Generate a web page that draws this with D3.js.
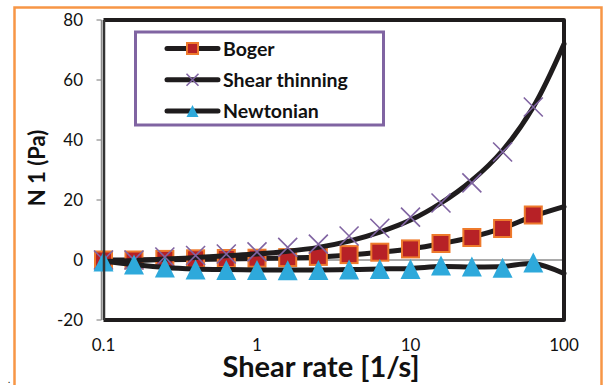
<!DOCTYPE html>
<html>
<head>
<meta charset="utf-8">
<script src="https://cdn.jsdelivr.net/npm/d3@7"></script>
<style>
  body { margin: 0; background: #fff; }
  svg { font-family: Lato, "Open Sans", sans-serif; }
</style>
</head>
<body>
<div id="chart"></div>
<script>
// shear rate (1/s), measured points and curve points
const rates = [0.1, 0.158, 0.251, 0.398, 0.631, 1, 1.585, 2.51, 3.98, 6.31, 10, 15.8, 25.1, 39.8, 63.1]
const curveRates = [0.1, 0.158, 0.251, 0.398, 0.631, 1, 1.585, 2.51, 3.98, 6.31, 10, 15.8, 25.1, 39.8, 63.1, 100]

const boger = [0, 0, 0.2, 0.4, 0.5, 0.6, 0.8, 1.2, 1.8, 2.6, 3.7, 5.5, 7.5, 10.5, 15]
const shearThinning = [0, 0, 1, 1.5, 2, 2.7, 4.2, 5.3, 8, 10.6, 14.3, 19, 25.7, 36, 51]
const newtonian = [-0.5, -1.5, -2.5, -3.2, -3.3, -3.3, -3.4, -3.3, -3.2, -3, -3, -1.8, -2.2, -2.6, -0.8]

const bogerCurve = [0, 0, 0.1, 0.2, 0.3, 0.5, 0.7, 1.0, 1.7, 2.6, 3.7, 5.4, 7.6, 10.6, 14.6, 17.8]
const shearCurve = [-0.5, -0.2, 0.3, 0.8, 1.4, 2.0, 2.9, 4.2, 6.3, 9.3, 13.3, 19, 26.5, 36.5, 51, 72]
const newtonCurve = [-0.3, -1.5, -2.5, -3.0, -3.2, -3.3, -3.3, -3.3, -3.2, -3.0, -2.8, -2.2, -2.3, -2.2, -1.2, -4.5]

const yTicks = [-20, 0, 20, 40, 60, 80]
const xTicks = [0.1, 1, 10, 100]
const seriesNames = ['Boger', 'Shear thinning', 'Newtonian']

const width = 603
const height = 385
const pLeft = 103.5, pRight = 564, pTop = 20, pBottom = 320

const x = d3.scaleLog().domain([0.1, 100]).range([pLeft, pRight])
const y = d3.scaleLinear().domain([-20, 80]).range([pBottom, pTop])

const svg = d3.select('#chart')
  .append('svg')
    .attr('width', width)
    .attr('height', height)

// orange outer frame (bottom runs off the picture)
svg.append('path')
  .attr('d', `M14.5,${height + 5}V7.5H601.5V${height + 5}`)
  .attr('fill', 'none')
  .attr('stroke', '#F79646')
  .attr('stroke-width', 2.5)

svg.append('text')
  .attr('x', 8).attr('y', 383)
  .attr('font-size', 9)
  .text('.')

// y axis (gray) with ticks
svg.append('line')
  .attr('x1', pLeft - 2).attr('x2', pLeft - 2)
  .attr('y1', pTop).attr('y2', pBottom)
  .attr('stroke', '#8c8c8c').attr('stroke-width', 1.5)

svg.selectAll('.ytick')
  .data(yTicks)
  .enter()
  .append('line')
    .attr('x1', pLeft - 7).attr('x2', pLeft - 2)
    .attr('y1', d => y(d)).attr('y2', d => y(d))
    .attr('stroke', '#8c8c8c').attr('stroke-width', 1.2)

svg.selectAll('.ylabel')
  .data(yTicks)
  .enter()
  .append('text')
    .attr('x', 83)
    .attr('y', d => y(d))
    .attr('dy', '0.36em')
    .attr('text-anchor', 'end')
    .attr('font-size', 17)
    .attr('fill', '#111')
    .text(d => d)

svg.selectAll('.xlabel')
  .data(xTicks)
  .enter()
  .append('text')
    .attr('x', d => x(d))
    .attr('y', 351)
    .attr('text-anchor', 'middle')
    .attr('font-size', 17)
    .attr('fill', '#111')
    .text(d => d)

// x axis crossing at zero
svg.append('line')
  .attr('x1', pLeft).attr('x2', pRight)
  .attr('y1', y(0)).attr('y2', y(0))
  .attr('stroke', '#8c8c8c').attr('stroke-width', 1.5)
svg.append('line')
  .attr('x1', pRight).attr('x2', pRight)
  .attr('y1', y(0)).attr('y2', y(0) + 6)
  .attr('stroke', '#8c8c8c').attr('stroke-width', 1.5)

// axis titles
svg.append('text')
  .attr('transform', `translate(45,168) rotate(-90)`)
  .attr('text-anchor', 'middle')
  .attr('font-size', 22)
  .attr('font-weight', 'bold')
  .attr('fill', '#111')
  .text('N 1 (Pa)')

svg.append('text')
  .attr('x', 321).attr('y', 377)
  .attr('text-anchor', 'middle')
  .attr('font-size', 29)
  .attr('font-weight', 'bold')
  .attr('fill', '#111')
  .text('Shear rate [1/s]')

const line = d3.line()
  .x(d => x(d[0]))
  .y(d => y(d[1]))
  .curve(d3.curveCatmullRom)

const zip = (xs, ys) => xs.map((v, i) => [v, ys[i]])

const lineColor = '#1f1c1d'

const drawLine = (vals) => {
  svg.append('path')
    .attr('d', line(zip(curveRates, vals)))
    .attr('fill', 'none')
    .attr('stroke', lineColor)
    .attr('stroke-width', 5)
    .attr('stroke-linecap', 'round')
}

const square = (g, s) => g.append('rect')
  .attr('x', -s / 2).attr('y', -s / 2)
  .attr('width', s).attr('height', s)
  .attr('fill', '#B72126')
  .attr('stroke', '#EE7A2C')
  .attr('stroke-width', 2)

const cross = (g, s) => g.append('path')
  .attr('d', `M${-s/2},${-s/2}L${s/2},${s/2}M${-s/2},${s/2}L${s/2},${-s/2}`)
  .attr('stroke', '#8064A2')
  .attr('stroke-width', 1.6)
  .attr('fill', 'none')

const triangle = (g, s) => g.append('path')
  .attr('d', `M0,${-s/2}L${s/2},${s/2}L${-s/2},${s/2}Z`)
  .attr('fill', '#2EA9DB')

const drawMarkers = (vals, shape, s) => {
  svg.selectAll(null)
    .data(zip(rates, vals))
    .enter()
    .append('g')
      .attr('transform', d => `translate(${x(d[0])},${y(d[1])})`)
      .each(function () { shape(d3.select(this), s) })
}

drawLine(bogerCurve)
drawMarkers(boger, square, 17)
drawLine(shearCurve)
drawMarkers(shearThinning, cross, 19)
drawLine(newtonCurve)
drawMarkers(newtonian, triangle, 20)

// plot frame on top
svg.append('path')
  .attr('d', `M${pLeft},${pTop}H${pRight}V${pBottom}H${pLeft}`)
  .attr('fill', 'none')
  .attr('stroke', lineColor)
  .attr('stroke-width', 4)
  .attr('stroke-linejoin', 'round')
svg.append('line')
  .attr('x1', pLeft + 0.5).attr('x2', pLeft + 0.5)
  .attr('y1', pTop).attr('y2', pBottom)
  .attr('stroke', '#333').attr('stroke-width', 2.5)

// legend
const legend = svg.append('g')
legend.append('rect')
  .attr('x', 135.5).attr('y', 32)
  .attr('width', 248).attr('height', 93)
  .attr('fill', '#fff')
  .attr('stroke', '#8064A2')
  .attr('stroke-width', 3)

const shapes = [[square, 11], [cross, 12], [triangle, 12]]
seriesNames.forEach((name, i) => {
  const ly = 48.5 + i * 31.3
  legend.append('line')
    .attr('x1', 167).attr('x2', 218)
    .attr('y1', ly).attr('y2', ly)
    .attr('stroke', lineColor)
    .attr('stroke-width', 5)
    .attr('stroke-linecap', 'round')
  const g = legend.append('g').attr('transform', `translate(192.5,${ly})`)
  shapes[i][0](g, shapes[i][1])
  legend.append('text')
    .attr('x', 223).attr('y', ly)
    .attr('dy', '0.36em')
    .attr('font-size', 19.5)
    .attr('font-weight', 'bold')
    .attr('fill', '#111')
    .text(name)
})
</script>
</body>
</html>
